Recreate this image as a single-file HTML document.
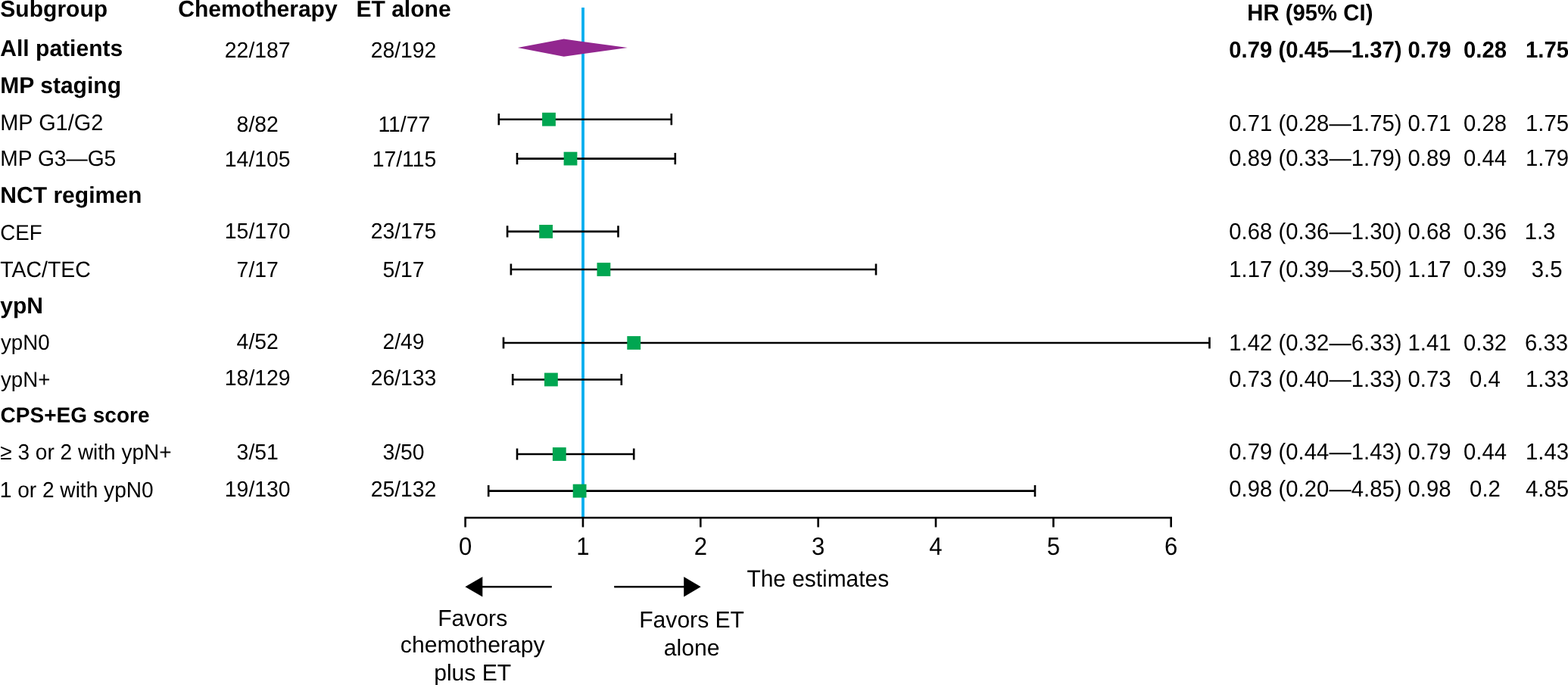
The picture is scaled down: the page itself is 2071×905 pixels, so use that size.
<!DOCTYPE html>
<html lang="en"><head><meta charset="utf-8"><title>Forest plot</title>
<style>html,body{margin:0;padding:0;background:#fff;}body{width:2071px;height:905px;overflow:hidden;}svg{display:block;}text{font-family:"Liberation Sans",sans-serif;fill:#000;white-space:pre;text-rendering:geometricPrecision;}.b{font-weight:bold;}.m{text-anchor:middle;}.e{text-anchor:end;}.l{stroke:#000;stroke-width:2.6;fill:none;}</style></head><body>
<svg width="2071" height="905" viewBox="0 0 2071 905" role="img" aria-label="Forest plot of hazard ratios by subgroup">
<rect width="2071" height="905" fill="#fff"/>
<text transform="translate(0.3,22.3) scale(1,1.01)" font-size="30.05" class="b">Subgroup</text>
<text transform="translate(340.5,22.3) scale(1,1.01)" font-size="30.05" class="b m">Chemotherapy</text>
<text transform="translate(533,22.3) scale(1,1.01)" font-size="30.05" class="b m">ET alone</text>
<text transform="translate(1647.2,27.4) scale(1,1.035)" font-size="29.33" class="b">HR (95% CI)</text>
<line x1="770" y1="10" x2="770" y2="684" stroke="#00aeef" stroke-width="3.8"/>
<path class="l" d="M658.8 157.7 H886.8 M658.8 150.1 V165.29999999999998 M886.8 150.1 V165.29999999999998"/>
<path class="l" d="M683.0 209.6 H891.8 M683.0 202.0 V217.2 M891.8 202.0 V217.2"/>
<path class="l" d="M670.1 305.9 H816.5 M670.1 298.29999999999995 V313.5 M816.5 298.29999999999995 V313.5"/>
<path class="l" d="M674.9 356.0 H1157 M674.9 348.4 V363.6 M1157 348.4 V363.6"/>
<path class="l" d="M665.0 453.0 H1597.5 M665.0 445.4 V460.6 M1597.5 445.4 V460.6"/>
<path class="l" d="M677.2 501.5 H820.8 M677.2 493.9 V509.1 M820.8 493.9 V509.1"/>
<path class="l" d="M683.0 600.0 H837.2 M683.0 592.4 V607.6 M837.2 592.4 V607.6"/>
<path class="l" d="M645.2 648.6 H1367 M645.2 641.0 V656.2 M1367 641.0 V656.2"/>
<polygon points="683.8,63 744.7,51.6 828.8,63 744.7,74.8" fill="#92278f"/>
<rect x="716.1" y="148.8" width="17.8" height="17.8" fill="#00a651"/>
<rect x="744.6" y="200.7" width="17.8" height="17.8" fill="#00a651"/>
<rect x="712.2" y="297.0" width="17.8" height="17.8" fill="#00a651"/>
<rect x="788.5" y="347.1" width="17.8" height="17.8" fill="#00a651"/>
<rect x="828.3" y="444.1" width="17.8" height="17.8" fill="#00a651"/>
<rect x="719.0" y="492.6" width="17.8" height="17.8" fill="#00a651"/>
<rect x="729.9" y="591.1" width="17.8" height="17.8" fill="#00a651"/>
<rect x="756.7" y="639.7" width="17.8" height="17.8" fill="#00a651"/>
<path class="l" d="M613.3000000000001 684 H1547.9999999999998 M614.6 684 V696.6 M769.95 684 V696.6 M925.3 684 V696.6 M1080.65 684 V696.6 M1236.0 684 V696.6 M1391.35 684 V696.6 M1546.7 684 V696.6"/>
<text transform="translate(614.6,732.7) scale(1,1.065)" font-size="31.1" class="m">0</text>
<text transform="translate(769.95,732.7) scale(1,1.065)" font-size="31.1" class="m">1</text>
<text transform="translate(925.3,732.7) scale(1,1.065)" font-size="31.1" class="m">2</text>
<text transform="translate(1080.65,732.7) scale(1,1.065)" font-size="31.1" class="m">3</text>
<text transform="translate(1236.0,732.7) scale(1,1.065)" font-size="31.1" class="m">4</text>
<text transform="translate(1391.35,732.7) scale(1,1.065)" font-size="31.1" class="m">5</text>
<text transform="translate(1546.7,732.7) scale(1,1.065)" font-size="31.1" class="m">6</text>
<text transform="translate(986.4,775.1) scale(1,1.04)" font-size="29.9">The estimates</text>
<path class="l" d="M636 775.3 H728.8 M811.2 775.3 H904"/>
<polygon points="614.4,775.3 637.3,762.1 637.3,788.4" fill="#000"/>
<polygon points="925.6,775.3 903.2,762.1 903.2,788.4" fill="#000"/>
<text transform="translate(624.2,826.5) scale(1,1.01)" font-size="30.1" class="m">Favors</text>
<text transform="translate(624.2,862.3) scale(1,1.01)" font-size="30.1" class="m">chemotherapy</text>
<text transform="translate(624.2,898.7) scale(1,1.01)" font-size="30.1" class="m">plus ET</text>
<text transform="translate(913.6,829.3) scale(1,1.01)" font-size="30.1" class="m">Favors ET</text>
<text transform="translate(913.6,865.8) scale(1,1.01)" font-size="30.1" class="m">alone</text>
<text transform="translate(0.3,74.1) scale(1,1.01)" font-size="30.05" class="b">All patients</text>
<text transform="translate(340.2,75.9) scale(1,1.026)" font-size="28.35" class="m">22/187</text>
<text transform="translate(533,75.9) scale(1,1.026)" font-size="28.35" class="m">28/192</text>
<text transform="translate(1623.3,76.4) scale(1,1.035)" font-size="29.33" class="b">0.79 (0.45—1.37)</text>
<text transform="translate(1888,76.4) scale(1,1.035)" font-size="29.33" class="b m">0.79</text>
<text transform="translate(1961.5,76.4) scale(1,1.035)" font-size="29.33" class="b m">0.28</text>
<text transform="translate(2043.5,76.4) scale(1,1.035)" font-size="29.33" class="b m">1.75</text>
<text transform="translate(0.3,122.7) scale(1,1.01)" font-size="30.05" class="b">MP staging</text>
<text transform="translate(0.3,171.9) scale(1,1.03)" font-size="28.9">MP G1/G2</text>
<text transform="translate(340.2,173.7) scale(1,1.026)" font-size="28.35" class="m">8/82</text>
<text transform="translate(533.8,173.7) scale(1,1.026)" font-size="28.35" class="m">11/77</text>
<text transform="translate(1623.3,173.3) scale(1,1.04)" font-size="29.33">0.71 (0.28—1.75)</text>
<text transform="translate(1888,173.3) scale(1,1.04)" font-size="29.33" class="m">0.71</text>
<text transform="translate(1961.5,173.3) scale(1,1.04)" font-size="29.33" class="m">0.28</text>
<text transform="translate(2043.5,173.3) scale(1,1.04)" font-size="29.33" class="m">1.75</text>
<text transform="translate(0.3,219.45) scale(1,1.03)" font-size="28.2">MP G3—G5</text>
<text transform="translate(340.2,219.8) scale(1,1.026)" font-size="28.35" class="m">14/105</text>
<text transform="translate(534.0,219.8) scale(1,1.026)" font-size="28.35" class="m">17/115</text>
<text transform="translate(1623.3,219.4) scale(1,1.04)" font-size="29.33">0.89 (0.33—1.79)</text>
<text transform="translate(1888,219.4) scale(1,1.04)" font-size="29.33" class="m">0.89</text>
<text transform="translate(1961.5,219.4) scale(1,1.04)" font-size="29.33" class="m">0.44</text>
<text transform="translate(2043.5,219.4) scale(1,1.04)" font-size="29.33" class="m">1.79</text>
<text transform="translate(0.3,267.9) scale(1,1.01)" font-size="30.05" class="b">NCT regimen</text>
<text transform="translate(0.3,316.7) scale(1,1.03)" font-size="27.7">CEF</text>
<text transform="translate(340.2,315.2) scale(1,1.026)" font-size="28.35" class="m">15/170</text>
<text transform="translate(533,315.2) scale(1,1.026)" font-size="28.35" class="m">23/175</text>
<text transform="translate(1623.3,316.1) scale(1,1.04)" font-size="29.33">0.68 (0.36—1.30)</text>
<text transform="translate(1888,316.1) scale(1,1.04)" font-size="29.33" class="m">0.68</text>
<text transform="translate(1961.5,316.1) scale(1,1.04)" font-size="29.33" class="m">0.36</text>
<text transform="translate(2034.05,316.1) scale(1,1.04)" font-size="29.33" class="m">1.3</text>
<text transform="translate(0.3,365.55) scale(1,1.03)" font-size="28.45">TAC/TEC</text>
<text transform="translate(340.2,366.3) scale(1,1.026)" font-size="28.35" class="m">7/17</text>
<text transform="translate(533,366.3) scale(1,1.026)" font-size="28.35" class="m">5/17</text>
<text transform="translate(1623.3,366.1) scale(1,1.04)" font-size="29.33">1.17 (0.39—3.50)</text>
<text transform="translate(1888,366.1) scale(1,1.04)" font-size="29.33" class="m">1.17</text>
<text transform="translate(1961.5,366.1) scale(1,1.04)" font-size="29.33" class="m">0.39</text>
<text transform="translate(2043.1,366.1) scale(1,1.04)" font-size="29.33" class="m">3.5</text>
<text transform="translate(0.3,413.5) scale(1,1.01)" font-size="30.05" class="b">ypN</text>
<text transform="translate(0.95,462.3) scale(1,1.03)" font-size="27.7">ypN0</text>
<text transform="translate(340.2,461.1) scale(1,1.026)" font-size="28.35" class="m">4/52</text>
<text transform="translate(533,461.1) scale(1,1.026)" font-size="28.35" class="m">2/49</text>
<text transform="translate(1623.3,462.6) scale(1,1.04)" font-size="29.33">1.42 (0.32—6.33)</text>
<text transform="translate(1888,462.6) scale(1,1.04)" font-size="29.33" class="m">1.41</text>
<text transform="translate(1961.5,462.6) scale(1,1.04)" font-size="29.33" class="m">0.32</text>
<text transform="translate(2042.5,462.6) scale(1,1.04)" font-size="29.33" class="m">6.33</text>
<text transform="translate(0.95,510.8) scale(1,1.03)" font-size="27.7">ypN+</text>
<text transform="translate(340.2,509.2) scale(1,1.026)" font-size="28.35" class="m">18/129</text>
<text transform="translate(533,509.2) scale(1,1.026)" font-size="28.35" class="m">26/133</text>
<text transform="translate(1623.3,511.4) scale(1,1.04)" font-size="29.33">0.73 (0.40—1.33)</text>
<text transform="translate(1888,511.4) scale(1,1.04)" font-size="29.33" class="m">0.73</text>
<text transform="translate(1961.5,511.4) scale(1,1.04)" font-size="29.33" class="m">0.4</text>
<text transform="translate(2043.5,511.4) scale(1,1.04)" font-size="29.33" class="m">1.33</text>
<text transform="translate(0.6,558.3) scale(1,1.01)" font-size="28.0" class="b">CPS+EG score</text>
<text transform="translate(0.3,607.4) scale(1,1.03)" font-size="28.03">≥ 3 or 2 with ypN+</text>
<text transform="translate(340.2,607.3) scale(1,1.026)" font-size="28.35" class="m">3/51</text>
<text transform="translate(533,607.3) scale(1,1.026)" font-size="28.35" class="m">3/50</text>
<text transform="translate(1623.3,606.8) scale(1,1.04)" font-size="29.33">0.79 (0.44—1.43)</text>
<text transform="translate(1888,606.8) scale(1,1.04)" font-size="29.33" class="m">0.79</text>
<text transform="translate(1961.5,606.8) scale(1,1.04)" font-size="29.33" class="m">0.44</text>
<text transform="translate(2043.5,606.8) scale(1,1.04)" font-size="29.33" class="m">1.43</text>
<text transform="translate(-0.3,656.65) scale(1,1.03)" font-size="28.1">1 or 2 with ypN0</text>
<text transform="translate(340.2,656.3) scale(1,1.026)" font-size="28.35" class="m">19/130</text>
<text transform="translate(533,656.3) scale(1,1.026)" font-size="28.35" class="m">25/132</text>
<text transform="translate(1623.3,655.9) scale(1,1.04)" font-size="29.33">0.98 (0.20—4.85)</text>
<text transform="translate(1888,655.9) scale(1,1.04)" font-size="29.33" class="m">0.98</text>
<text transform="translate(1961.5,655.9) scale(1,1.04)" font-size="29.33" class="m">0.2</text>
<text transform="translate(2043.5,655.9) scale(1,1.04)" font-size="29.33" class="m">4.85</text>
</svg></body></html>
